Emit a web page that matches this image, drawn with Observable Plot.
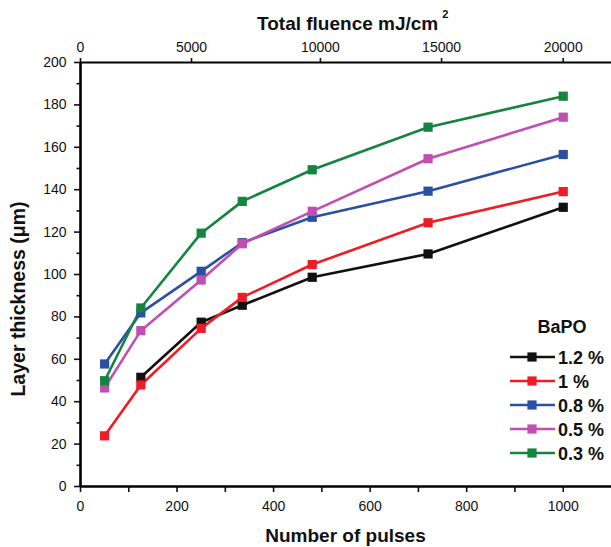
<!DOCTYPE html>
<html>
<head>
<meta charset="utf-8">
<script src="https://cdn.jsdelivr.net/npm/d3@7"></script>
<script src="https://cdn.jsdelivr.net/npm/@observablehq/plot@0.6"></script>
<style>
  html, body { margin: 0; padding: 0; background: #fff; }
  #chart svg { display: block; }
</style>
</head>
<body>
<div id="chart"></div>
<script>
// ---- data ----
const pulses = [50, 125, 250, 335, 480, 720, 1000];
const seriesNames = ["1.2 %", "1 %", "0.8 %", "0.5 %", "0.3 %"];
const thick12 = [null, 51.5, 77.5, 85.5, 98.7, 109.7, 131.7];
const thick10 = [23.9, 47.9, 74.6, 89.2, 104.7, 124.4, 139.1];
const thick08 = [57.8, 81.9, 101.5, 115, 127, 139.3, 156.6];
const thick05 = [46.5, 73.5, 97.4, 114.5, 129.8, 154.6, 174.2];
const thick03 = [49.9, 84.2, 119.5, 134.5, 149.4, 169.5, 184.1];
const seriesColors = ["#111111", "#ee1c25", "#2b4fa3", "#c04fb2", "#15843f"];

const xTicks = [0, 200, 400, 600, 800, 1000];
const xMinorTicks = [100, 300, 500, 700, 900];
const yTicks = [0, 20, 40, 60, 80, 100, 120, 140, 160, 180, 200];
const yMinorTicks = [10, 30, 50, 70, 90, 110, 130, 150, 170, 190];
const topTickPulses = [0, 230, 497, 748, 1000];
const topTickLabels = ["0", "5000", "10000", "15000", "20000"];

const xTitle = "Number of pulses";
const yTitle = "Layer thickness (\u03bcm)";
const topTitle = "Total fluence mJ/cm";
const legendTitle = "BaPO";

// ---- tidy table ----
const allSeries = [thick12, thick10, thick08, thick05, thick03];
const rows = [];
allSeries.forEach((vals, si) => {
  vals.forEach((v, i) => {
    if (v != null) rows.push({series: seriesNames[si], pulses: pulses[i], thickness: v});
  });
});
const topLabelMap = new Map(topTickPulses.map((p, i) => [p, topTickLabels[i]]));

const W = 611, H = 547;
const font = "'Liberation Sans', Arial, Helvetica, sans-serif";

const chart = Plot.plot({
  width: W,
  height: H,
  marginLeft: 80,
  marginRight: 0,
  marginTop: 62,
  marginBottom: 61,
  style: {fontFamily: font, fontSize: "14px", color: "#111", background: "#fff", overflow: "visible"},
  x: {domain: [0, 1100]},
  y: {domain: [0, 200]},
  color: {domain: seriesNames, range: seriesColors},
  marks: [
    Plot.axisX({ticks: xTicks, tickSize: 6, tickPadding: 9, strokeWidth: 1.6, label: null, tickFormat: d => String(d)}),
    Plot.axisX({ticks: xMinorTicks, tickSize: 6, tickFormat: () => "", strokeWidth: 1.6, label: null}),
    Plot.axisX({anchor: "top", ticks: topTickPulses, tickSize: 5, tickPadding: 6, strokeWidth: 1.6,
                tickFormat: d => topLabelMap.get(d), label: null}),
    Plot.axisY({ticks: yTicks, tickSize: 6, tickPadding: 8, strokeWidth: 1.6, label: null, tickFormat: d => String(d)}),
    Plot.axisY({ticks: yMinorTicks, tickSize: 3.5, tickFormat: () => "", strokeWidth: 1.6, label: null}),
    Plot.ruleY([0], {stroke: "#000", strokeWidth: 2.6}),
    Plot.ruleY([200], {stroke: "#000", strokeWidth: 2.2}),
    Plot.ruleX([0], {stroke: "#000", strokeWidth: 2.6}),
    Plot.line(rows, {x: "pulses", y: "thickness", z: "series", stroke: "series", strokeWidth: 2.6}),
    Plot.dot(rows, {x: "pulses", y: "thickness", fill: "series", symbol: "square", r: 5.2})
  ]
});

document.getElementById("chart").appendChild(chart);

// ---- titles & legend (SVG text) ----
const svg = d3.select(chart);
const x0 = 80, x1 = W;
svg.append("text")
  .attr("x", (x0 + x1) / 2).attr("y", 542)
  .attr("text-anchor", "middle")
  .style("font-family", font).style("font-size", "19px").style("font-weight", "bold").attr("fill", "#111")
  .text(xTitle);

svg.append("text")
  .attr("transform", "translate(25,299) rotate(-90)")
  .attr("text-anchor", "middle")
  .style("font-family", font).style("font-size", "19.5px").style("font-weight", "bold").attr("fill", "#111")
  .text(yTitle);

const tt = svg.append("text")
  .attr("x", 257).attr("y", 30)
  .attr("text-anchor", "start")
  .style("font-family", font).style("font-size", "19px").style("font-weight", "bold").attr("fill", "#111");
tt.append("tspan").text(topTitle);
tt.append("tspan").attr("dx", 4).attr("dy", -12).style("font-size", "11px").text("2");

const lg = svg.append("g");
lg.append("text")
  .attr("x", 562).attr("y", 333)
  .attr("text-anchor", "middle")
  .style("font-family", font).style("font-size", "18px").style("font-weight", "bold").attr("fill", "#111")
  .text(legendTitle);
seriesNames.forEach((name, i) => {
  const cy = 357 + i * 24;
  const g = lg.append("g");
  g.append("line").attr("x1", 510).attr("x2", 555).attr("y1", cy).attr("y2", cy)
    .attr("stroke", seriesColors[i]).attr("stroke-width", 2.6);
  g.append("rect").attr("x", 532 - 4.6).attr("y", cy - 4.6).attr("width", 9.2).attr("height", 9.2)
    .attr("fill", seriesColors[i]);
  g.append("text").attr("x", 558).attr("y", cy + 6.5)
    .attr("text-anchor", "start")
    .style("font-family", font).style("font-size", "18px").style("font-weight", "bold").attr("fill", "#111")
    .text(name);
});
</script>
</body>
</html>
